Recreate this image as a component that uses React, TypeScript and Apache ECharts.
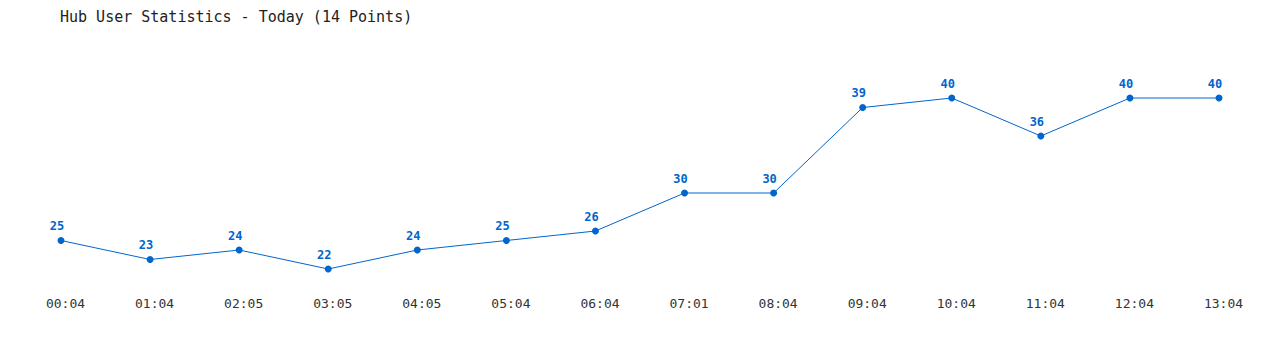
import React, { useEffect, useRef } from "react";
import * as echarts from "echarts";

const titleText = "Hub User Statistics - Today (14 Points)";
const times = ["00:04", "01:04", "02:05", "03:05", "04:05", "05:04", "06:04", "07:01", "08:04", "09:04", "10:04", "11:04", "12:04", "13:04"];
const users = [25, 23, 24, 22, 24, 25, 26, 30, 30, 39, 40, 36, 40, 40];

export default function App() {
  const ref = useRef<HTMLDivElement>(null);
  useEffect(() => {
    const chart = echarts.init(ref.current!, null, { renderer: "svg" });
    const mono = "DejaVu Sans Mono";
    chart.setOption({
      animation: false,
      backgroundColor: "#ffffff",
      title: {
        text: titleText,
        left: 60,
        top: 9,
        padding: 0,
        textStyle: { fontFamily: mono, fontSize: 15, fontWeight: "normal", color: "#222222" },
      },
      grid: { left: 61, right: 61, top: 79, bottom: 62 },
      xAxis: {
        type: "category",
        data: times,
        boundaryGap: false,
        axisLine: { show: false },
        axisTick: { show: false },
        splitLine: { show: false },
        axisLabel: { fontFamily: mono, fontSize: 13, color: "#333333", margin: 9, padding: [0, 0, 0, 9] },
      },
      yAxis: {
        type: "value",
        min: 20,
        max: 42,
        show: false,
        splitLine: { show: false },
      },
      series: [
        {
          type: "line",
          data: users,
          symbol: "circle",
          symbolSize: 7,
          lineStyle: { color: "#0066cc", width: 1 },
          itemStyle: { color: "#0066cc" },
          label: {
            show: true,
            position: "top",
            distance: 5,
            offset: [-4, 0],
            fontFamily: mono,
            fontSize: 12,
            fontWeight: "bold",
            color: "#0066cc",
          },
        },
      ],
    });
    return () => chart.dispose();
  }, []);
  return <div ref={ref} style={{ width: 1280, height: 350, position: "absolute", left: 0, top: 0 }} />;
}
